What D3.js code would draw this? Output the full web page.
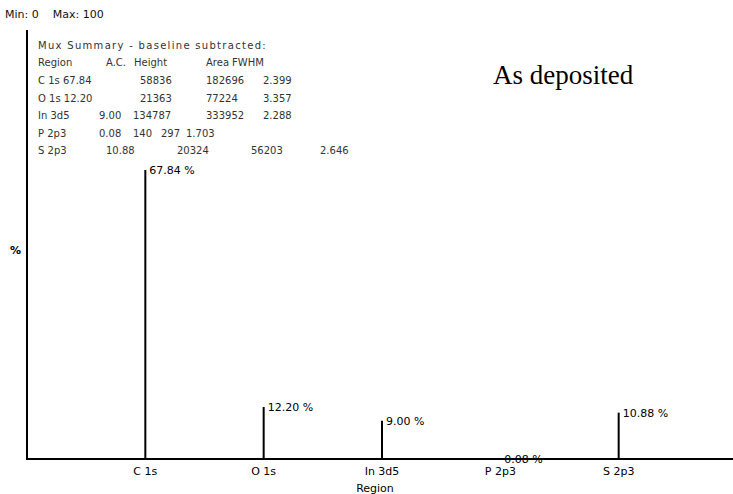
<!DOCTYPE html>
<html>
<head>
<meta charset="utf-8">
<script src="https://cdn.jsdelivr.net/npm/d3@7"></script>
<style>
  body { margin: 0; background: #fff; }
  text { font-family: "DejaVu Sans", sans-serif; }
</style>
</head>
<body>
<div id="chart"></div>
<script>
// Chart data
var regions = ["C 1s", "O 1s", "In 3d5", "P 2p3", "S 2p3"];
var percents = [67.84, 12.20, 9.00, 0.08, 10.88];
var percentLabels = ["67.84 %", "12.20 %", "9.00 %", "0.08 %", "10.88 %"];

// Summary table text (as printed on the instrument output)
var summaryTitle = "Mux Summary - baseline subtracted:";
var summaryHeader = ["Region", "A.C.", "Height", "Area", "FWHM"];
var summaryRows = [
    ["C 1s 67.84", "58836", "182696", "2.399"],
    ["O 1s 12.20", "21363", "77224", "3.357"],
    ["In 3d5", "9.00", "134787", "333952", "2.288"],
    ["P 2p3", "0.08", "140", "297", "1.703"],
    ["S 2p3", "10.88", "20324", "56203", "2.646"]
];

// Layout only: where each summary cell starts
var headerX = [38, 106, 134, 206, 232];
var rowX = [
    [38, 140, 206, 263],
    [38, 140, 206, 263],
    [38, 99, 133, 206, 263],
    [38, 99, 133, 161, 186],
    [38, 106, 177, 251, 320]
];

var width = 733;
var height = 494;
var plotLeft = 27, plotBase = 459, plotTop = 33, plotRight = 737;

var svg = d3.select("#chart")
    .append("svg")
    .attr("width", width)
    .attr("height", height);

svg.append("rect").attr("width", width).attr("height", height).attr("fill", "#fff");

var x = d3.scalePoint()
    .domain(regions)
    .range([plotLeft, plotRight])
    .padding(1);

var y = d3.scaleLinear()
    .domain([0, 100])
    .range([plotBase, plotTop]);

// Min / Max caption
svg.append("text")
    .attr("x", 5).attr("y", 18)
    .attr("xml:space", "preserve")
    .style("font-size", "11px")
    .attr("fill", "#111")
    .text("Min: 0    Max: 100");

// Axes lines
svg.append("line")
    .attr("x1", plotLeft).attr("x2", plotLeft)
    .attr("y1", 30).attr("y2", plotBase + 1)
    .attr("stroke", "#000").attr("stroke-width", 2);

svg.append("line")
    .attr("x1", plotLeft).attr("x2", width)
    .attr("y1", plotBase).attr("y2", plotBase)
    .attr("stroke", "#000").attr("stroke-width", 2);

// Axis titles
svg.append("text")
    .attr("x", 10).attr("y", 254)
    .style("font-size", "11px")
    .style("font-weight", "bold")
    .text("%");

svg.append("text")
    .attr("x", 375).attr("y", 492)
    .attr("text-anchor", "middle")
    .style("font-size", "11px")
    .text("Region");

// Category labels
svg.selectAll(".tick-label")
    .data(regions)
    .enter()
    .append("text")
    .attr("class", "tick-label")
    .attr("x", function(d) { return x(d); })
    .attr("y", 475)
    .attr("text-anchor", "middle")
    .style("font-size", "11px")
    .text(function(d) { return d; });

// Stick bars
svg.selectAll(".bar")
    .data(percents)
    .enter()
    .append("line")
    .attr("class", "bar")
    .attr("x1", function(d, i) { return x(regions[i]); })
    .attr("x2", function(d, i) { return x(regions[i]); })
    .attr("y1", plotBase)
    .attr("y2", function(d) { return y(d); })
    .attr("stroke", "#000")
    .attr("stroke-width", 2);

// Value labels at top of each bar
svg.selectAll(".value")
    .data(percents)
    .enter()
    .append("text")
    .attr("class", "value")
    .attr("x", function(d, i) { return x(regions[i]) + 4; })
    .attr("y", function(d) { return y(d) + 4; })
    .style("font-size", "11px")
    .text(function(d, i) { return percentLabels[i]; });

// Summary block
var summary = svg.append("g")
    .attr("fill", "#333")
    .style("font-size", "10px");

summary.append("text")
    .attr("x", 38).attr("y", 49)
    .style("letter-spacing", "1.3px")
    .text(summaryTitle);

summary.selectAll(".hdr")
    .data(summaryHeader)
    .enter()
    .append("text")
    .attr("class", "hdr")
    .attr("x", function(d, i) { return headerX[i]; })
    .attr("y", 66)
    .text(function(d) { return d; });

summaryRows.forEach(function(row, r) {
    summary.selectAll(".row" + r)
        .data(row)
        .enter()
        .append("text")
        .attr("class", "row" + r)
        .attr("x", function(d, i) { return rowX[r][i]; })
        .attr("y", 84 + r * 17.5)
        .text(function(d) { return d; });
});

// Sample annotation
svg.append("text")
    .attr("x", 493).attr("y", 84)
    .style("font-family", "'Liberation Serif', 'DejaVu Serif', serif")
    .style("font-size", "27px")
    .attr("fill", "#000")
    .text("As deposited");
</script>
</body>
</html>
